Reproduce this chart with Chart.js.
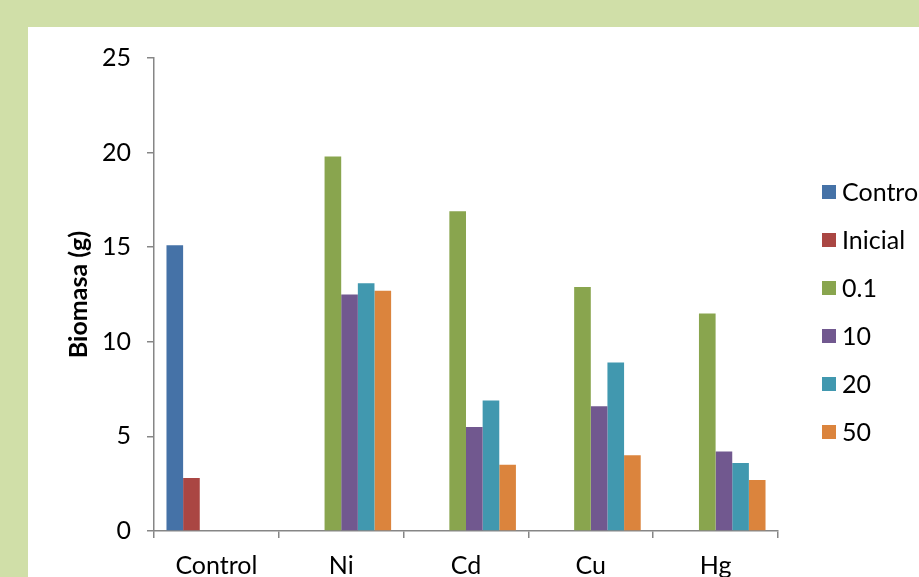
<!DOCTYPE html>
<html>
<head>
<meta charset="utf-8">
<script src="https://cdn.jsdelivr.net/npm/chart.js@4.4.1/dist/chart.umd.min.js"></script>
<style>
  html, body { margin: 0; padding: 0; overflow: hidden; }
  body { width: 919px; height: 577px; background: #d0dfa8; position: relative; }
  #panel { position: absolute; left: 28px; top: 27px; width: 891px; height: 550px; background: #ffffff; overflow: hidden; }
  canvas { display: block; }
</style>
</head>
<body>
<div id="panel"><canvas id="c" width="891" height="567"></canvas></div>
<script>
// Biomass per treatment group and metal concentration
const categories = ['Control', 'Ni', 'Cd', 'Cu', 'Hg'];
const seriesLabels = ['Control', 'Inicial', '0.1', '10', '20', '50'];
const controlValues = [15.1, null, null, null, null];
const inicialValues = [2.8, null, null, null, null];
const conc01Values = [null, 19.8, 16.9, 12.9, 11.5];
const conc10Values = [null, 12.5, 5.5, 6.6, 4.2];
const conc20Values = [null, 13.1, 6.9, 8.9, 3.6];
const conc50Values = [null, 12.7, 3.5, 4.0, 2.7];
const yTicks = [0, 5, 10, 15, 20, 25];

const colors = ['#4572a7', '#aa4643', '#89a54e', '#71588f', '#4198af', '#db843d'];
const seriesValues = [controlValues, inicialValues, conc01Values, conc10Values, conc20Values, conc50Values];

const FONT = 'Lato, "Liberation Sans", sans-serif';

// Legend drawn as a vertical list to the right of the plot
const sideLegend = {
  id: 'sideLegend',
  afterDraw(chart) {
    const ctx = chart.ctx;
    const area = chart.chartArea;
    const x0 = area.right + 44;
    const y0 = 165;
    const step = 48;
    ctx.save();
    ctx.font = '25px ' + FONT;
    ctx.textBaseline = 'middle';
    ctx.textAlign = 'left';
    chart.data.datasets.forEach((ds, i) => {
      const cy = y0 + i * step;
      ctx.fillStyle = ds.backgroundColor;
      ctx.fillRect(x0, cy - 7, 14, 14);
      ctx.fillStyle = '#000000';
      ctx.fillText(ds.label, x0 + 20, cy + 1);
    });
    ctx.restore();
  }
};

new Chart(document.getElementById('c'), {
  type: 'bar',
  data: {
    labels: categories,
    datasets: seriesLabels.map((label, i) => ({
      label: label,
      data: seriesValues[i],
      backgroundColor: colors[i],
      borderWidth: 0,
      barPercentage: 1.0,
      categoryPercentage: 0.8
    }))
  },
  options: {
    responsive: false,
    animation: false,
    layout: { padding: { top: 23, right: 141, bottom: 0, left: 36 } },
    plugins: {
      legend: { display: false },
      tooltip: { enabled: false }
    },
    scales: {
      x: {
        grid: { display: true, drawOnChartArea: false, drawTicks: true, tickLength: 7, color: '#868686', lineWidth: 1.5, offset: true },
        border: { color: '#868686', width: 1.5 },
        ticks: { color: '#000000', font: { family: FONT, size: 25 }, padding: 13 }
      },
      y: {
        min: 0,
        max: 25,
        afterBuildTicks(axis) { axis.ticks = yTicks.map(v => ({ value: v })); },
        grid: { display: true, drawOnChartArea: false, drawTicks: true, tickLength: 7, color: '#868686', lineWidth: 1.5 },
        border: { color: '#868686', width: 1.5 },
        ticks: { color: '#000000', font: { family: FONT, size: 25 }, padding: 16 },
        title: { display: true, text: 'Biomasa (g)', color: '#000000', font: { family: FONT, size: 25, weight: 'bold' }, padding: { top: 0, bottom: -8 } }
      }
    }
  },
  plugins: [sideLegend]
});
</script>
</body>
</html>
